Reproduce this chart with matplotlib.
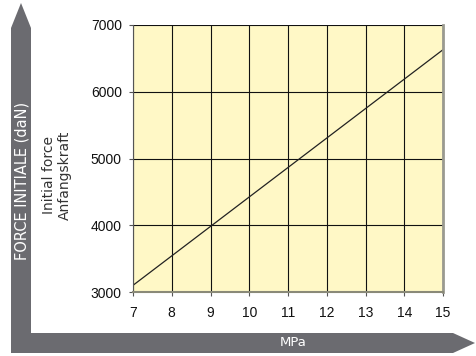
import matplotlib
matplotlib.use("Agg")
import matplotlib.pyplot as plt
from matplotlib.patches import Polygon

# data
mpa = [7, 15]
force = [3100, 6630]
x_ticks = [7, 8, 9, 10, 11, 12, 13, 14, 15]
y_ticks = [3000, 4000, 5000, 6000, 7000]

GRAY = "#6b6b70"
YELLOW = "#fff8c6"

fig = plt.figure(figsize=(4.76, 3.56), dpi=100)
fig.patch.set_facecolor("white")

# background layer in pixel coords for the two arrow bars
bg = fig.add_axes([0, 0, 1, 1])
bg.set_xlim(0, 476); bg.set_ylim(356, 0); bg.axis("off")
bg.add_patch(Polygon([(11, 333), (11, 28), (21, 3), (31, 28), (31, 333)],
                     closed=True, fc=GRAY, ec="none"))
bg.add_patch(Polygon([(11, 333), (453, 333), (475, 343), (453, 353), (11, 353)],
                     closed=True, fc=GRAY, ec="none"))
bg.text(22, 181, "FORCE INITIALE (daN)", rotation=90, ha="center", va="center",
        color="white", fontsize=10.5, family="DejaVu Sans")
bg.text(293, 343, "MPa", ha="center", va="center", color="white",
        fontsize=9.5, family="DejaVu Sans")
bg.text(57, 175, "Initial force\nAnfangskraft", rotation=90, ha="center",
        va="center", color="#333333", fontsize=10, family="DejaVu Sans",
        linespacing=1.1)

ax = fig.add_axes([133 / 476, 1 - 292 / 356, 310 / 476, 267 / 356])
ax.set_facecolor(YELLOW)
ax.plot(mpa, force, color="#222222", lw=0.9)
ax.set_xlim(7, 15)
ax.set_ylim(3000, 7000)
ax.set_xticks(x_ticks)
ax.set_yticks(y_ticks)
ax.grid(True, color="#111111", lw=0.8)
ax.set_axisbelow(True)
ax.spines["top"].set_visible(False)
ax.spines["left"].set_color("#555555")
ax.spines["bottom"].set_color("#8a8a78")
ax.spines["bottom"].set_linewidth(1.5)
ax.spines["right"].set_color("#9a9a90")
ax.spines["right"].set_linewidth(2)
ax.tick_params(length=3, width=0.8, color="#555555", labelsize=10,
               labelcolor="#111111")
ax.tick_params(axis="x", pad=7)
ax.tick_params(axis="y", pad=5)
for lab in ax.get_xticklabels() + ax.get_yticklabels():
    lab.set_family("Liberation Sans")

fig.savefig("out.png", dpi=100)
